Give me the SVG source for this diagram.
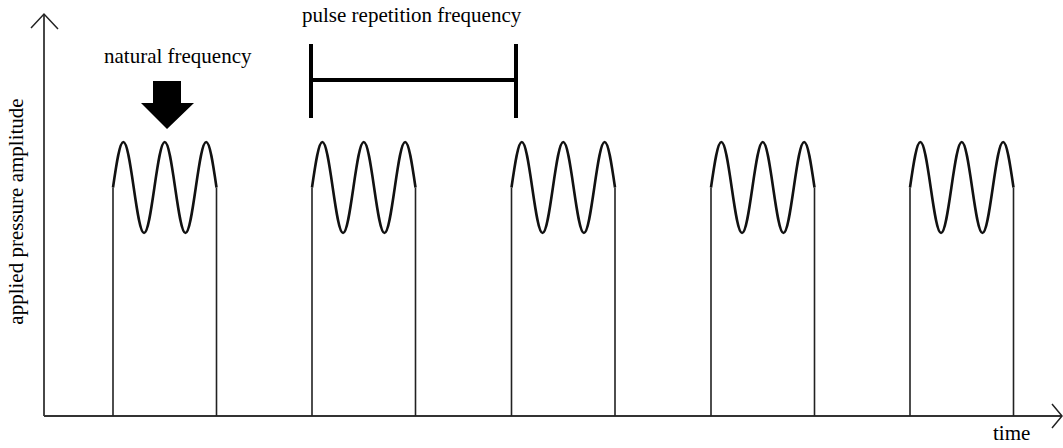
<svg xmlns="http://www.w3.org/2000/svg" width="1063" height="448" viewBox="0 0 1063 448">
<style>
.axis{stroke:#333;stroke-width:1.8;fill:none}
.head{stroke:#222;stroke-width:1.5;fill:none}
.edge{stroke:#222;stroke-width:1.6;fill:none}
.wave{stroke:#111;stroke-width:2.6;fill:none;stroke-linejoin:round}
.bracket{stroke:#000;stroke-width:4;fill:none}
.lbl{font-family:"Liberation Serif","Times New Roman",serif;font-size:21px;fill:#000}
</style>
<defs>
<g id="pulse">
<path class="wave" d="M0,0 c3.375,-23.31 6.604,-45.5 10.35,-45.5 c3.746,0 6.975,22.19 10.35,45.5 c3.375,23.31 6.604,45.5 10.35,45.5 c3.746,0 6.975,-22.19 10.35,-45.5 c3.375,-23.31 6.604,-45.5 10.35,-45.5 c3.746,0 6.975,22.19 10.35,45.5 c3.375,23.31 6.604,45.5 10.35,45.5 c3.746,0 6.975,-22.19 10.35,-45.5 c3.375,-23.31 6.604,-45.5 10.35,-45.5 c3.746,0 6.975,22.19 10.35,45.5"/>
<path class="edge" d="M0,0 V228.5 M103.5,0 V228.5"/>
</g>
</defs>
<g id="y-axis">
<line class="axis" x1="44" y1="14" x2="44" y2="416"/>
<polyline class="head" points="31,28 44,14 58,29"/>
</g>
<g id="x-axis">
<line class="axis" x1="44" y1="416" x2="1062" y2="416"/>
<polyline class="head" points="1052,404 1062,416 1052,428"/>
</g>
<g id="pulse1"><use href="#pulse" transform="translate(113,187.5)"/></g>
<g id="pulse2"><use href="#pulse" transform="translate(312,187.5)"/></g>
<g id="pulse3"><use href="#pulse" transform="translate(511.5,187.5)"/></g>
<g id="pulse4"><use href="#pulse" transform="translate(711,187.5)"/></g>
<g id="pulse5"><use href="#pulse" transform="translate(910,187.5)"/></g>
<g id="natural-arrow">
<polygon points="153,81 181,81 181,103 194,103 167,129 141,103 153,103" fill="#000"/>
</g>
<g id="prf-bracket">
<path class="bracket" d="M311,44 V118 M516,44 V118 M311,80 H516"/>
</g>
<g id="labels">
<text class="lbl" x="104" y="63">natural frequency</text>
<text class="lbl" x="302" y="22">pulse repetition frequency</text>
<text class="lbl" x="993" y="440">time</text>
<text class="lbl" text-anchor="middle" transform="translate(23,211.5) rotate(-90)">applied pressure amplitude</text>
</g>
</svg>
